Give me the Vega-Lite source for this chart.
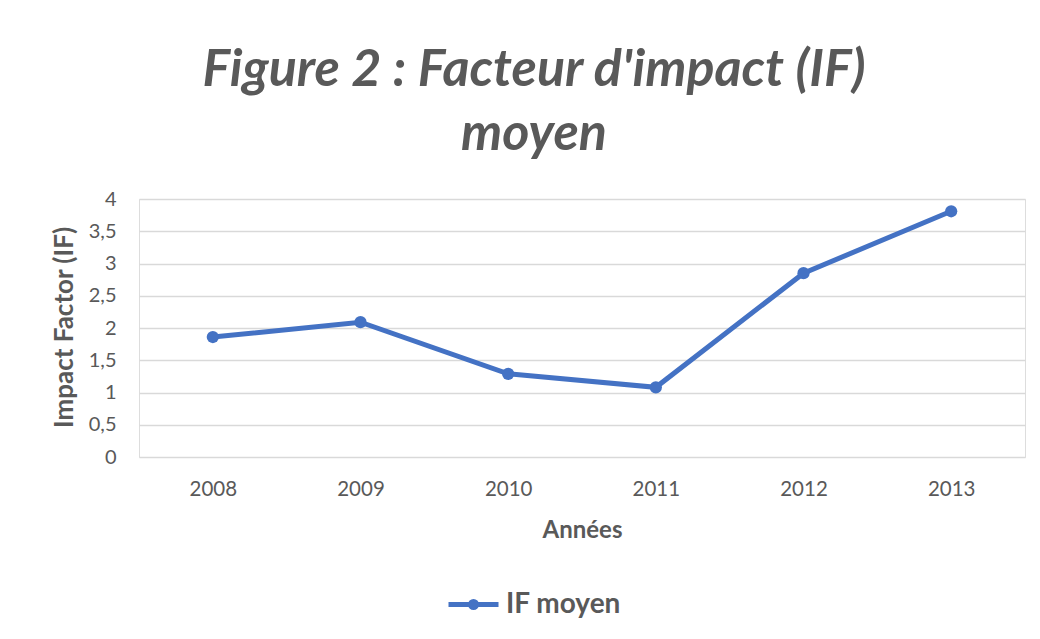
{
  "$schema": "https://vega.github.io/schema/vega-lite/v6.json",
  "width": 886,
  "height": 258,
  "autosize": "none",
  "padding": {"left": 139, "top": 199, "right": 15, "bottom": 182},
  "background": "white",
  "title": {
    "text": ["Figure 2 : Facteur d'impact (IF)", "moyen"],
    "frame": "group",
    "anchor": "middle",
    "dx": -48,
    "offset": 28,
    "font": "Lato",
    "fontSize": 52,
    "fontStyle": "italic",
    "fontWeight": "bold",
    "color": "#595959",
    "lineHeight": 64
  },
  "data": {
    "values": [
      {"annee": "2008", "valeur": 1.86, "serie": "IF moyen"},
      {"annee": "2009", "valeur": 2.09, "serie": "IF moyen"},
      {"annee": "2010", "valeur": 1.29, "serie": "IF moyen"},
      {"annee": "2011", "valeur": 1.08, "serie": "IF moyen"},
      {"annee": "2012", "valeur": 2.85, "serie": "IF moyen"},
      {"annee": "2013", "valeur": 3.81, "serie": "IF moyen"}
    ]
  },
  "mark": {
    "type": "line",
    "strokeWidth": 5,
    "point": {"filled": true, "size": 150, "color": "#4472C4"}
  },
  "encoding": {
    "x": {
      "field": "annee",
      "type": "ordinal",
      "scale": {"padding": 0.5},
      "axis": {
        "title": "Années",
        "titleFont": "Lato",
        "titleFontSize": 24,
        "titleFontWeight": "bold",
        "titleColor": "#595959",
        "titleBaseline": "middle",
        "titleY": 73,
        "labelAngle": 0,
        "labelFont": "Lato",
        "labelFontSize": 20.5,
        "labelColor": "#595959",
        "labelPadding": 22,
        "ticks": false,
        "domain": false
      }
    },
    "y": {
      "field": "valeur",
      "type": "quantitative",
      "scale": {"domain": [0, 4], "nice": false},
      "axis": {
        "title": "Impact Factor (IF)",
        "titleFont": "Lato",
        "titleFontSize": 26,
        "titleFontWeight": "bold",
        "titleColor": "#595959",
        "titleAngle": -90,
        "titleAlign": "center",
        "titleBaseline": "middle",
        "titleX": -75,
        "titleY": 128,
        "values": [0, 0.5, 1, 1.5, 2, 2.5, 3, 3.5, 4],
        "format": ".1~f",
        "labelExpr": "replace(datum.label, '.', ',')",
        "labelFont": "Lato",
        "labelFontSize": 20,
        "labelColor": "#595959",
        "labelPadding": 23,
        "ticks": false,
        "domain": false,
        "grid": true,
        "gridColor": "#d9d9d9",
        "gridWidth": 1.5
      }
    },
    "color": {
      "field": "serie",
      "type": "nominal",
      "scale": {"range": ["#4472C4"]},
      "legend": {
        "title": null,
        "orient": "none",
        "legendX": 307,
        "legendY": 378,
        "symbolType": "M-1,0 L1,0 M0.12,0 A0.12,0.12 0 1,1 -0.12,0 A0.12,0.12 0 1,1 0.12,0 Z",
        "symbolSize": 2500,
        "symbolStrokeWidth": 5,
        "symbolStrokeColor": "#4472C4",
        "symbolFillColor": "#4472C4",
        "labelFont": "Lato",
        "labelFontSize": 28,
        "labelFontWeight": "bold",
        "labelColor": "#595959",
        "labelOffset": 5
      }
    }
  }
}
